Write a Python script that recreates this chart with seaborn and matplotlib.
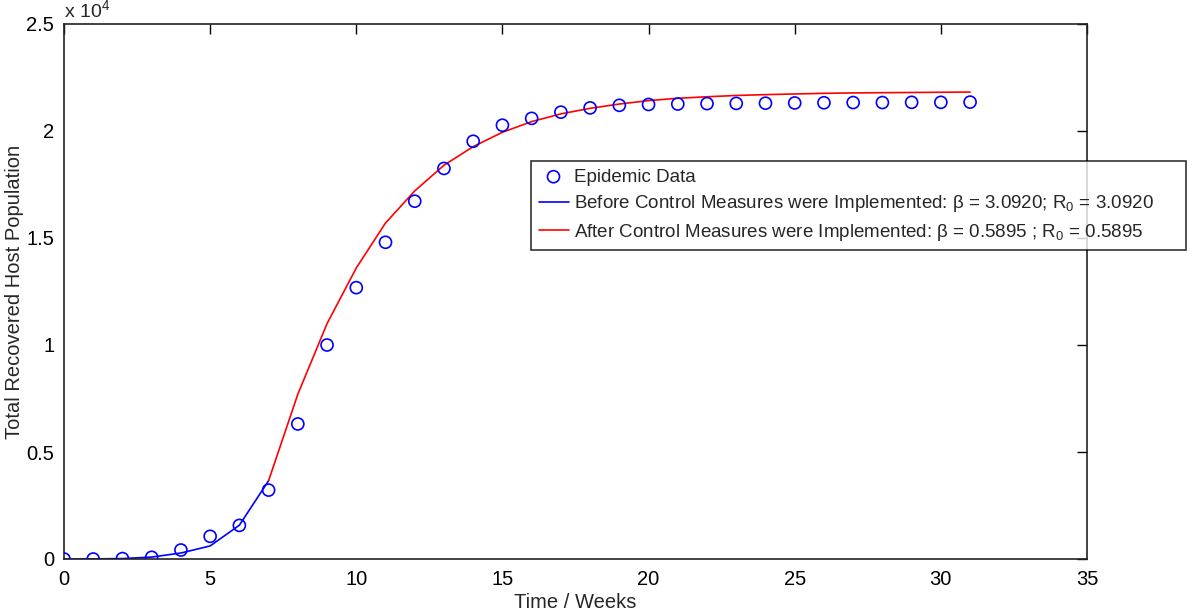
import matplotlib
matplotlib.use('Agg')
import matplotlib.pyplot as plt
import seaborn as sns
from matplotlib.ticker import FuncFormatter

# Weekly observed totals
weeks = list(range(32))
recovered_data = [0, 0, 20, 80, 420, 1060, 1570, 3220, 6310, 10000, 12680, 14800,
                  16720, 18250, 19520, 20270, 20590, 20880, 21080, 21200, 21240,
                  21260, 21280, 21290, 21300, 21310, 21320, 21330, 21330, 21340,
                  21340, 21350]

# Model fit before control measures (weeks 0-7)
before_weeks = list(range(8))
before_fit = [0, 5, 20, 90, 280, 610, 1580, 3660]

# Model fit after control measures (weeks 7-31)
after_weeks = list(range(7, 32))
after_fit = [3660, 7700, 11000, 13600, 15700, 17200, 18400, 19270, 19940, 20440,
             20800, 21060, 21260, 21420, 21530, 21600, 21660, 21700, 21730, 21760,
             21780, 21790, 21800, 21810, 21820]

x_ticks = [0, 5, 10, 15, 20, 25, 30, 35]
y_ticks = [0, 5000, 10000, 15000, 20000, 25000]

sns.set_theme(style='white')
plt.rcParams['font.family'] = ['Liberation Sans', 'DejaVu Sans']
plt.rcParams['mathtext.fontset'] = 'custom'
plt.rcParams['mathtext.rm'] = 'Liberation Sans'
plt.rcParams['mathtext.it'] = 'Liberation Sans'

fig = plt.figure(figsize=(12, 6.11), dpi=100)
ax = fig.add_axes([64 / 1200, 1 - 559 / 611, (1087 - 64) / 1200, (559 - 24) / 611])

sns.scatterplot(x=weeks, y=recovered_data, ax=ax, marker='o', s=75, color='blue',
                facecolors='none', edgecolor='blue', linewidth=1.2,
                label='Epidemic Data', zorder=3)
sns.lineplot(x=before_weeks, y=before_fit, ax=ax, color='blue', linewidth=1.2,
             label=r'Before Control Measures were Implemented: $\beta$ = 3.0920; R$_0$ = 3.0920')
sns.lineplot(x=after_weeks, y=after_fit, ax=ax, color='red', linewidth=1.2,
             label=r'After Control Measures were Implemented: $\beta$ = 0.5895 ; R$_0$ = 0.5895')

ax.set_xlim(0, 35)
ax.set_ylim(0, 25000)
ax.set_xticks(x_ticks)
ax.set_yticks(y_ticks)
ax.yaxis.set_major_formatter(FuncFormatter(lambda v, p: f'{v / 1e4:g}'))
ax.tick_params(direction='in', length=7, width=1, colors='black', labelsize=14.5,
               top=True, right=True)
ax.tick_params(axis='x', pad=8)
ax.tick_params(axis='y', pad=7)
for s in ax.spines.values():
    s.set_color('#222222')
    s.set_linewidth(1.2)

ax.text(0, 1.005, r'x 10$^4$', transform=ax.transAxes, fontsize=14, ha='left', va='bottom')
ax.set_xlabel('Time / Weeks', fontsize=14.5, labelpad=3)
ax.set_ylabel('Total Recovered Host Population', fontsize=14.5, labelpad=2)

leg = ax.legend(loc='upper left', mode='expand',
                bbox_to_anchor=(531 / 1200, 1 - 279 / 611, 655 / 1200, 118 / 611),
                bbox_transform=fig.transFigure, fontsize=13.5, frameon=True,
                fancybox=False, handlelength=1.6, handletextpad=0.3,
                labelspacing=0.4, borderaxespad=0, borderpad=0.4)
leg.get_frame().set_edgecolor('black')
leg.get_frame().set_linewidth(1.2)

fig.savefig('out.png', dpi=100)
